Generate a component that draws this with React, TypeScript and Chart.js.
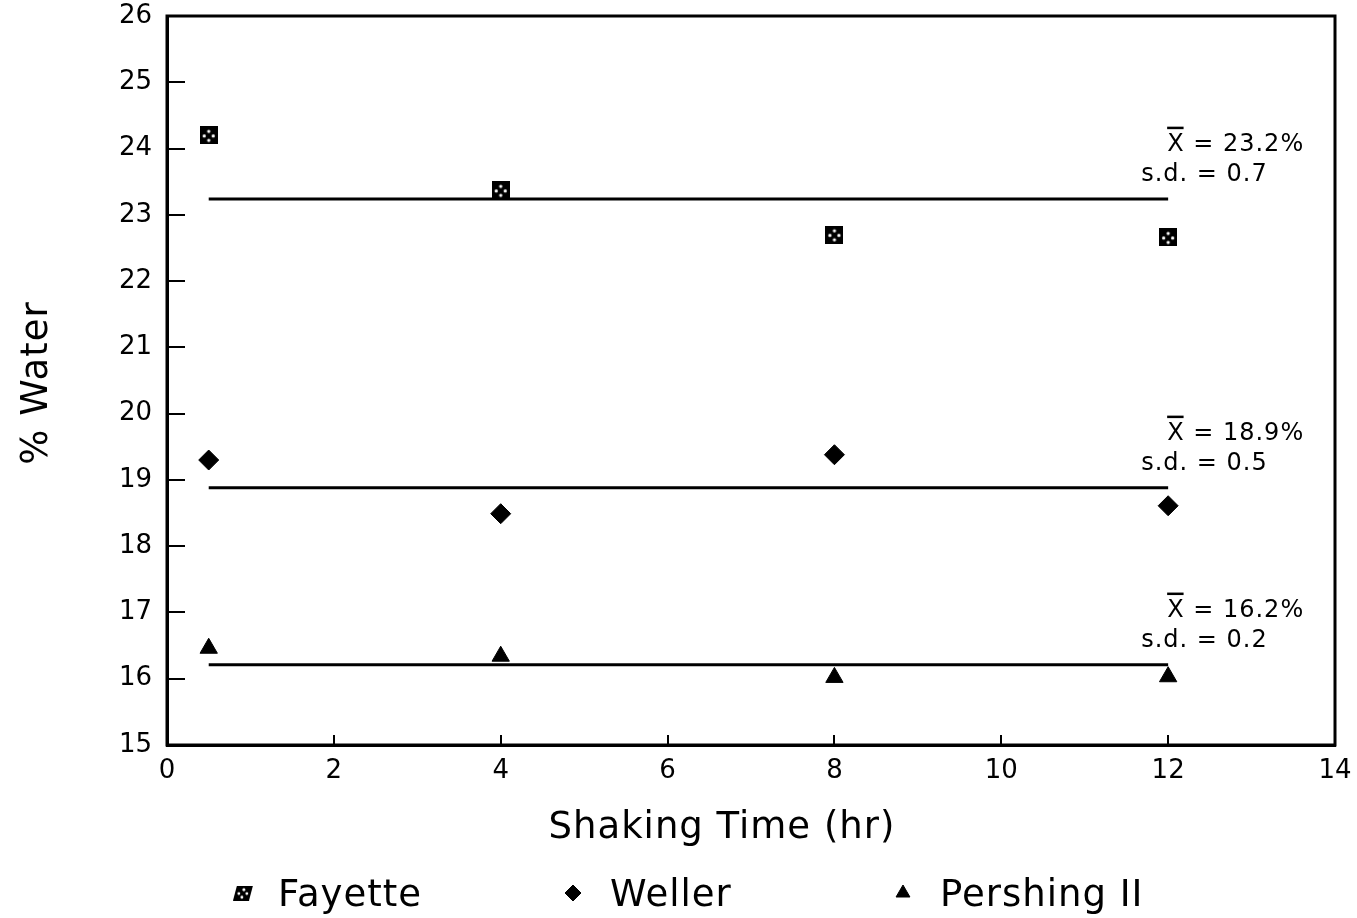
import React, { useEffect, useRef } from "react";
import { Chart, registerables } from "chart.js";
import { drawPoint } from "chart.js/helpers";

Chart.register(...registerables);

// ---- data ----
const shakingTimes = [0.5, 4, 8, 12];
const fayetteWater = [24.2, 23.37, 22.7, 22.66];
const wellerWater = [19.3, 18.49, 19.38, 18.61];
const pershingWater = [16.46, 16.34, 16.02, 16.03];
const seriesNames = ["Fayette", "Weller", "Pershing II"];
const meanWater = [23.24, 18.88, 16.21];
const meanLabels = ["23.2%", "18.9%", "16.2%"];
const sdLabels = ["0.7", "0.5", "0.2"];
const meanLineRange = [0.5, 12];
const xTitle = "Shaking Time (hr)";
const yTitle = "% Water";

const FONT = '"DejaVu Sans", "Liberation Sans", sans-serif';

function makeFayetteMarker(w: number, h: number, slant: number) {
  const c = document.createElement("canvas");
  c.width = w + slant;
  c.height = h;
  const g = c.getContext("2d")!;
  g.fillStyle = "#000";
  g.beginPath();
  g.moveTo(slant, 0);
  g.lineTo(w + slant, 0);
  g.lineTo(w, h);
  g.lineTo(0, h);
  g.closePath();
  g.fill();
  g.fillStyle = "#fff";
  const dots = [
    [0.5, 0.28],
    [0.25, 0.54],
    [0.75, 0.54],
    [0.5, 0.78],
  ];
  for (const [fx, fy] of dots) {
    const px = fx * w + slant * (1 - fy);
    const py = fy * h;
    g.beginPath();
    g.arc(px, py, Math.max(1.3, w / 11), 0, Math.PI * 2);
    g.fill();
  }
  return c;
}

function setSpacing(ctx: CanvasRenderingContext2D, spacing: string) {
  try {
    (ctx as any).letterSpacing = spacing;
  } catch (e) {}
}

export default function App() {
  const ref = useRef<HTMLCanvasElement | null>(null);

  useEffect(() => {
    if (!ref.current) return;
    const fayetteMarker = makeFayetteMarker(18, 18, 0);
    const fayetteLegendMarker = makeFayetteMarker(16, 15, 4);

    const pts = (ys: number[]) => shakingTimes.map((x, i) => ({ x, y: ys[i] }));
    const meanLine = (m: number) => meanLineRange.map((x) => ({ x, y: m }));

    const extras = {
      id: "extras",
      afterDraw(chart: any) {
        const { ctx, chartArea, scales } = chart;
        const xs = scales.x;
        const ys = scales.y;
        ctx.save();
        // frame
        ctx.strokeStyle = "#000";
        ctx.lineWidth = 3;
        ctx.strokeRect(chartArea.left, chartArea.top, chartArea.right - chartArea.left, chartArea.bottom - chartArea.top);

        // annotations
        ctx.fillStyle = "#000";
        ctx.font = `24px ${FONT}`;
        setSpacing(ctx, "1px");
        ctx.textAlign = "left";
        ctx.textBaseline = "alphabetic";
        const xEnd = xs.getPixelForValue(meanLineRange[1]);
        meanWater.forEach((m, i) => {
          const yl = ys.getPixelForValue(m);
          const tx = xEnd - 1;
          const ty = yl - 48;
          ctx.fillText("X = " + meanLabels[i], tx, ty);
          const xw = ctx.measureText("X").width - 1;
          ctx.lineWidth = 2.5;
          ctx.beginPath();
          ctx.moveTo(tx, ty - 23);
          ctx.lineTo(tx + xw, ty - 23);
          ctx.stroke();
          ctx.fillText("s.d. = " + sdLabels[i], xEnd - 27, yl - 18);
        });

        // axis titles
        ctx.font = `37px ${FONT}`;
        setSpacing(ctx, "1px");
        ctx.textAlign = "center";
        ctx.textBaseline = "alphabetic";
        ctx.fillText(xTitle, 722, 838);
        ctx.save();
        ctx.translate(47, 383);
        ctx.rotate(-Math.PI / 2);
        ctx.fillText(yTitle, 0, 0);
        ctx.restore();

        // legend
        const markerX = [243, 573, 903];
        const textX = [278, 610, 940];
        const ly = 893;
        ctx.fillStyle = "#000";
        ctx.strokeStyle = "#000";
        ctx.lineWidth = 1;
        const styles: any[] = [fayetteLegendMarker, "rectRot", "triangle"];
        styles.forEach((st, i) => {
          drawPoint(ctx, { pointStyle: st, radius: 8, borderWidth: 1, rotation: 0 } as any, markerX[i], ly);
        });
        ctx.textAlign = "left";
        ctx.textBaseline = "alphabetic";
        seriesNames.forEach((n, i) => ctx.fillText(n, textX[i], 906));
        setSpacing(ctx, "0px");
        ctx.restore();
      },
    };

    const chart = new Chart(ref.current, {
      type: "scatter",
      data: {
        datasets: [
          {
            label: seriesNames[0],
            data: pts(fayetteWater),
            pointStyle: fayetteMarker as any,
            pointRadius: 9,
            backgroundColor: "#000",
            borderColor: "#000",
          },
          {
            label: seriesNames[1],
            data: pts(wellerWater),
            pointStyle: "rectRot",
            pointRadius: 10,
            borderWidth: 1,
            backgroundColor: "#000",
            borderColor: "#000",
          },
          {
            label: seriesNames[2],
            data: pts(pershingWater),
            pointStyle: "triangle",
            pointRadius: 10,
            borderWidth: 1,
            backgroundColor: "#000",
            borderColor: "#000",
          },
          ...meanWater.map((m, i) => ({
            type: "line" as const,
            label: seriesNames[i] + " mean",
            data: meanLine(m),
            borderColor: "#000",
            borderWidth: 3,
            pointRadius: 0,
            showLine: true,
            fill: false,
          })),
        ],
      },
      options: {
        animation: false,
        responsive: true,
        maintainAspectRatio: false,
        events: [],
        layout: { padding: { top: 16, right: 22, left: 0, bottom: 0 } },
        plugins: {
          legend: { display: false },
          tooltip: { enabled: false },
        },
        scales: {
          x: {
            type: "linear",
            min: 0,
            max: 14,
            ticks: {
              stepSize: 2,
              color: "#000",
              font: { family: FONT, size: 26 },
              padding: 21,
              maxRotation: 0,
            },
            grid: {
              drawOnChartArea: false,
              drawTicks: true,
              tickLength: -10,
              color: "#000",
              tickColor: "#000",
              lineWidth: 2,
              tickWidth: 2,
            },
            border: { display: true, color: "#000", width: 3 },
            afterFit: (s: any) => {
              s.height = 173;
              s.paddingLeft = 0;
              s.paddingRight = 0;
              s.paddingTop = 0;
              s.paddingBottom = 0;
            },
          },
          y: {
            type: "linear",
            min: 15,
            max: 26,
            ticks: {
              stepSize: 1,
              color: "#000",
              font: { family: FONT, size: 26 },
              padding: 33,
            },
            grid: {
              drawOnChartArea: false,
              drawTicks: true,
              tickLength: -18,
              color: "#000",
              tickColor: "#000",
              lineWidth: 2,
              tickWidth: 2,
            },
            border: { display: true, color: "#000", width: 3 },
            afterFit: (s: any) => {
              s.width = 167;
              s.paddingLeft = 0;
              s.paddingRight = 0;
              s.paddingTop = 0;
              s.paddingBottom = 0;
            },
          },
        },
      },
      plugins: [extras],
    });
    return () => chart.destroy();
  }, []);

  return (
    <div style={{ position: "absolute", left: 0, top: 0, width: 1357, height: 918 }}>
      <canvas ref={ref} />
    </div>
  );
}
